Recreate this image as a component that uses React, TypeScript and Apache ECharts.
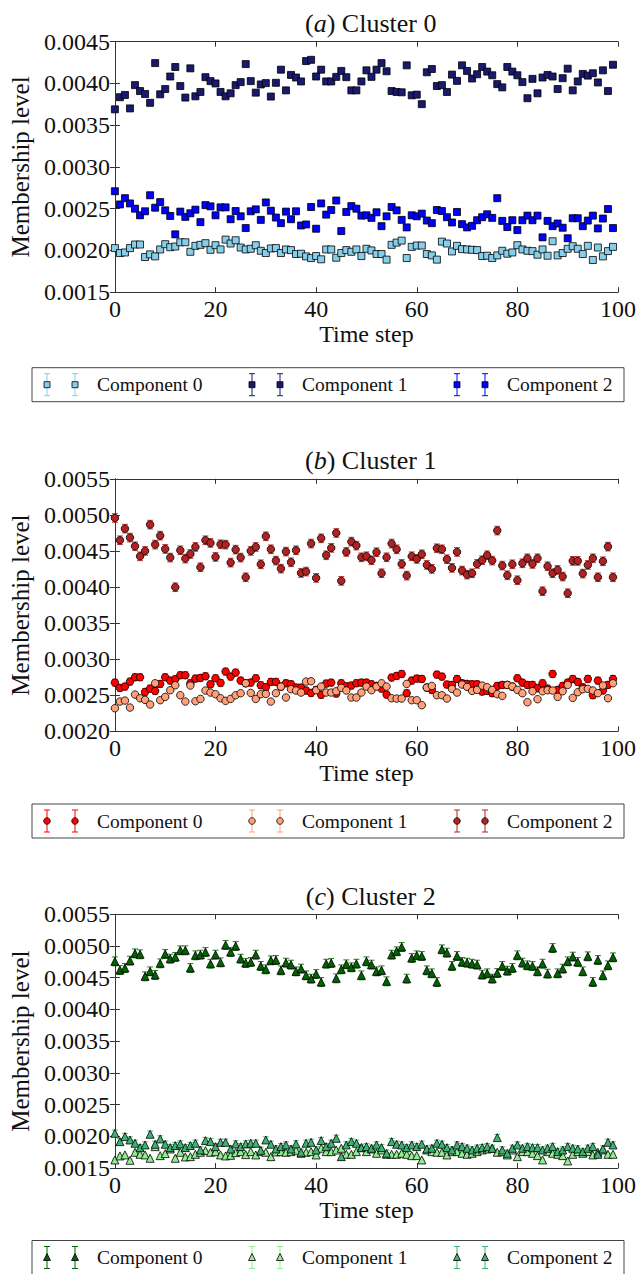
import React, { useEffect, useRef } from "react";
import * as echarts from "echarts";

// ---------------- DATA ----------------
const xTicks = [0, 20, 40, 60, 80, 100];
const componentNames = ["Component 0", "Component 1", "Component 2"];
const panelTitles = ["a", "b", "c"];
const clusterNames = ["Cluster 0", "Cluster 1", "Cluster 2"];

// Cluster 0
const cluster0Comp0 = [
  0.002028, 0.001969, 0.001976, 0.002028, 0.002071, 0.002071, 0.001921, 0.001953, 0.001929, 0.002012,
  0.002075, 0.002039, 0.002047, 0.002098, 0.002098, 0.001984, 0.002055, 0.002067, 0.002087, 0.002008,
  0.002063, 0.002012, 0.00213, 0.002083, 0.002122, 0.002035, 0.002012, 0.00202, 0.002063, 0.001996,
  0.001969, 0.002024, 0.002028, 0.001969, 0.002012, 0.002004, 0.001957, 0.001961, 0.001929, 0.001909,
  0.001933, 0.001894, 0.002012, 0.002012, 0.001913, 0.001969, 0.002004, 0.001984, 0.002012, 0.001933,
  0.00202, 0.002, 0.001957, 0.001957, 0.00189, 0.002067, 0.002094, 0.002118, 0.001909, 0.002043,
  0.002059, 0.002059, 0.001957, 0.001941, 0.00189, 0.002106, 0.002083, 0.001988, 0.002055, 0.002016,
  0.002012, 0.002008, 0.002004, 0.001933, 0.001937, 0.001909, 0.001941, 0.001996, 0.001961, 0.001976,
  0.002063, 0.002012, 0.001996, 0.001992, 0.001949, 0.002012, 0.001937, 0.00211, 0.001941, 0.001969,
  0.00202, 0.002051, 0.00202, 0.001957, 0.002055, 0.001886, 0.002035, 0.001929, 0.001992, 0.002043,
];
const cluster0Comp1 = [
  0.00369, 0.003835, 0.003862, 0.003701, 0.00398, 0.003909, 0.003874, 0.003768, 0.004244, 0.00387,
  0.003933, 0.004083, 0.004197, 0.003969, 0.003831, 0.004181, 0.003846, 0.003898, 0.004075, 0.004028,
  0.004, 0.003898, 0.003846, 0.003882, 0.00398, 0.004016, 0.004232, 0.004028, 0.00389, 0.003988,
  0.004004, 0.003843, 0.004008, 0.004165, 0.003917, 0.004102, 0.004071, 0.004024, 0.004268, 0.004283,
  0.004083, 0.004165, 0.004024, 0.004024, 0.004079, 0.00415, 0.004075, 0.003917, 0.003917, 0.004024,
  0.004157, 0.004079, 0.004165, 0.004244, 0.004146, 0.003909, 0.003898, 0.003894, 0.004217, 0.003858,
  0.003866, 0.003752, 0.004134, 0.004173, 0.003969, 0.00398, 0.003898, 0.004106, 0.004031, 0.004217,
  0.00415, 0.004059, 0.00411, 0.004197, 0.004142, 0.004098, 0.003992, 0.003953, 0.004197, 0.004142,
  0.004098, 0.004016, 0.003823, 0.004055, 0.003882, 0.004071, 0.004102, 0.004083, 0.003933, 0.004063,
  0.004177, 0.003917, 0.004024, 0.004114, 0.004094, 0.004122, 0.004012, 0.004157, 0.003909, 0.004224,
];
const cluster0Comp2 = [
  0.002709, 0.002551, 0.002626, 0.002563, 0.0025, 0.002421, 0.002469, 0.002661, 0.002512, 0.002579,
  0.00248, 0.002413, 0.002193, 0.002465, 0.002402, 0.002445, 0.002488, 0.002339, 0.002543, 0.002528,
  0.002421, 0.002516, 0.002516, 0.002374, 0.002472, 0.002409, 0.002268, 0.002469, 0.002492, 0.002366,
  0.002575, 0.002476, 0.002394, 0.002327, 0.002465, 0.002374, 0.002469, 0.002299, 0.002311, 0.00252,
  0.00226, 0.002563, 0.002429, 0.002484, 0.002598, 0.002232, 0.002461, 0.002531, 0.0025, 0.002417,
  0.002421, 0.00239, 0.002457, 0.002291, 0.002409, 0.00252, 0.00248, 0.002366, 0.002276, 0.002421,
  0.002409, 0.002441, 0.002358, 0.002327, 0.002484, 0.002472, 0.002398, 0.002335, 0.002461, 0.002315,
  0.002276, 0.002295, 0.002362, 0.002398, 0.002433, 0.00239, 0.002626, 0.002354, 0.00228, 0.002362,
  0.002244, 0.002362, 0.002417, 0.002362, 0.002417, 0.002157, 0.002354, 0.002291, 0.002323, 0.002272,
  0.002146, 0.002386, 0.002386, 0.002291, 0.002358, 0.002417, 0.002264, 0.002382, 0.002496, 0.002268,
];

// Cluster 1
const cluster1Comp0 = [
  0.002675, 0.002602, 0.00262, 0.002689, 0.002749, 0.002749, 0.002546, 0.002592, 0.00256, 0.002657,
  0.002749, 0.002703, 0.002722, 0.002777, 0.002777, 0.002666, 0.002731, 0.00274, 0.002763, 0.002652,
  0.002735, 0.002671, 0.002828, 0.002758, 0.002814, 0.002703, 0.002666, 0.002675, 0.002735, 0.002638,
  0.002611, 0.002685, 0.002685, 0.00262, 0.002666, 0.002652, 0.002606, 0.002606, 0.002565, 0.002532,
  0.002574, 0.002505, 0.002662, 0.002675, 0.002523, 0.002666, 0.002625, 0.002634, 0.002666, 0.002675,
  0.002675, 0.002652, 0.002629, 0.002592, 0.002509, 0.002745, 0.002768, 0.002795, 0.002528, 0.002703,
  0.002731, 0.002726, 0.002606, 0.002574, 0.002786, 0.002758, 0.002648, 0.002643, 0.002726, 0.002666,
  0.002657, 0.002652, 0.002652, 0.002551, 0.00256, 0.002528, 0.002629, 0.002643, 0.002643, 0.00262,
  0.002735, 0.002675, 0.002643, 0.002643, 0.002597, 0.002666, 0.002592, 0.002795, 0.002574, 0.002629,
  0.002675, 0.002726, 0.002685, 0.002611, 0.002726, 0.0025, 0.002703, 0.002565, 0.002643, 0.002726,
];
const cluster1Comp1 = [
  0.00232, 0.002412, 0.002426, 0.002329, 0.002509, 0.002458, 0.002435, 0.002371, 0.002666, 0.002431,
  0.002477, 0.002569, 0.002638, 0.0025, 0.002412, 0.002634, 0.002417, 0.002449, 0.002565, 0.002537,
  0.002514, 0.002458, 0.002422, 0.002449, 0.0025, 0.002528, 0.002666, 0.002532, 0.002449, 0.002514,
  0.002518, 0.002412, 0.002528, 0.00262, 0.002468, 0.002583, 0.002565, 0.002537, 0.002689, 0.002694,
  0.002569, 0.00262, 0.002537, 0.002537, 0.002555, 0.002602, 0.002565, 0.002468, 0.002468, 0.002537,
  0.00262, 0.002569, 0.00262, 0.002666, 0.00262, 0.002458, 0.002454, 0.002454, 0.002657, 0.002431,
  0.002431, 0.002362, 0.002606, 0.002629, 0.0025, 0.0025, 0.002454, 0.002588, 0.002537, 0.002648,
  0.002615, 0.00256, 0.002574, 0.002634, 0.002611, 0.002574, 0.002514, 0.002491, 0.002643, 0.00262,
  0.002574, 0.002528, 0.002403, 0.002555, 0.002445, 0.002555, 0.002569, 0.002565, 0.002477, 0.002555,
  0.002643, 0.002463, 0.002542, 0.002583, 0.002588, 0.002565, 0.002528, 0.002634, 0.002458, 0.002666,
];
const cluster1Comp2 = [
  0.004957, 0.004648, 0.004809, 0.004685, 0.004565, 0.004426, 0.0045, 0.004865, 0.004588, 0.004712,
  0.004528, 0.004408, 0.003997, 0.004509, 0.004394, 0.004458, 0.004555, 0.004274, 0.004648, 0.004611,
  0.004417, 0.004592, 0.004588, 0.004338, 0.004518, 0.004408, 0.004135, 0.0045, 0.004555, 0.004315,
  0.004703, 0.004523, 0.004366, 0.004255, 0.004491, 0.004343, 0.004509, 0.004195, 0.004214, 0.004602,
  0.004126, 0.004675, 0.00444, 0.004542, 0.004749, 0.004085, 0.004486, 0.004629, 0.004574, 0.004412,
  0.004426, 0.004371, 0.004482, 0.004191, 0.004412, 0.004602, 0.004523, 0.00432, 0.004158, 0.004426,
  0.004389, 0.004454, 0.004306, 0.004251, 0.004537, 0.004523, 0.004385, 0.004265, 0.004486, 0.004228,
  0.004172, 0.004191, 0.00432, 0.004371, 0.00444, 0.004366, 0.004782, 0.004297, 0.004163, 0.004315,
  0.004094, 0.004329, 0.004398, 0.00432, 0.004398, 0.003942, 0.004288, 0.004191, 0.004237, 0.004145,
  0.003914, 0.004362, 0.004362, 0.004186, 0.004306, 0.004398, 0.004135, 0.004357, 0.00456, 0.004135,
];

// Cluster 2
const cluster2Comp0 = [
  0.004758, 0.004621, 0.004653, 0.004769, 0.004884, 0.004869, 0.004522, 0.0046, 0.004543, 0.004727,
  0.004874, 0.0048, 0.004827, 0.004932, 0.004932, 0.004653, 0.004853, 0.004863, 0.004905, 0.004721,
  0.004863, 0.004742, 0.005016, 0.004905, 0.005, 0.0048, 0.004732, 0.004748, 0.004863, 0.004685,
  0.004632, 0.004774, 0.004779, 0.004616, 0.004737, 0.004706, 0.0046, 0.004643, 0.004537, 0.004485,
  0.004558, 0.004432, 0.004721, 0.004732, 0.00449, 0.004632, 0.004711, 0.004664, 0.004721, 0.004537,
  0.004758, 0.004706, 0.0046, 0.004616, 0.004443, 0.004863, 0.004916, 0.004984, 0.004485, 0.004811,
  0.004853, 0.004842, 0.004616, 0.004569, 0.004432, 0.004947, 0.004895, 0.004685, 0.004842, 0.004748,
  0.004737, 0.004721, 0.004706, 0.004548, 0.004569, 0.004485, 0.004574, 0.004685, 0.00461, 0.004653,
  0.004853, 0.004737, 0.004695, 0.004685, 0.0046, 0.004721, 0.004564, 0.004968, 0.004569, 0.004643,
  0.004758, 0.004832, 0.004748, 0.0046, 0.004837, 0.004432, 0.004779, 0.004537, 0.004695, 0.004821,
];
const cluster2Comp1 = [
  0.001627, 0.00169, 0.001706, 0.001621, 0.001748, 0.001716, 0.001706, 0.001653, 0.001837, 0.001695,
  0.001727, 0.0018, 0.001653, 0.001748, 0.001674, 0.001679, 0.001716, 0.001748, 0.001774, 0.001748,
  0.001758, 0.001706, 0.00169, 0.0017, 0.001742, 0.001758, 0.001711, 0.001758, 0.001706, 0.001758,
  0.001748, 0.001679, 0.001753, 0.001758, 0.001748, 0.001758, 0.001779, 0.001732, 0.001748, 0.001758,
  0.001706, 0.001811, 0.001758, 0.001758, 0.001784, 0.001811, 0.001716, 0.001716, 0.001758, 0.001821,
  0.001758, 0.0018, 0.001732, 0.001784, 0.001716, 0.001716, 0.001716, 0.001732, 0.001716, 0.001695,
  0.001695, 0.001627, 0.001784, 0.001758, 0.001748, 0.001748, 0.001706, 0.001758, 0.001758, 0.001732,
  0.001716, 0.001732, 0.001758, 0.001784, 0.0018, 0.001811, 0.001748, 0.001758, 0.001706, 0.001784,
  0.001679, 0.001758, 0.001758, 0.001732, 0.001695, 0.001627, 0.001758, 0.001732, 0.001716, 0.001695,
  0.001611, 0.001716, 0.001758, 0.001732, 0.001758, 0.001706, 0.001748, 0.001784, 0.001716, 0.001716,
];
const cluster2Comp2 = [
  0.002047, 0.001916, 0.001995, 0.001942, 0.00189, 0.001821, 0.001863, 0.002032, 0.001874, 0.001958,
  0.001874, 0.001821, 0.001853, 0.001879, 0.001821, 0.001853, 0.00189, 0.001784, 0.001932, 0.001916,
  0.001837, 0.001905, 0.001905, 0.0018, 0.001879, 0.001837, 0.001879, 0.00189, 0.00189, 0.001779,
  0.001942, 0.001874, 0.0018, 0.001837, 0.001863, 0.0018, 0.001879, 0.001748, 0.00189, 0.001905,
  0.001784, 0.001932, 0.001837, 0.00189, 0.001968, 0.001679, 0.001863, 0.001916, 0.00189, 0.001821,
  0.001837, 0.001811, 0.001863, 0.001821, 0.001732, 0.001916, 0.001874, 0.001863, 0.001821, 0.001863,
  0.001837, 0.001874, 0.0018, 0.001811, 0.00189, 0.001874, 0.001821, 0.001784, 0.001863, 0.001837,
  0.001811, 0.001784, 0.001811, 0.001821, 0.001837, 0.001811, 0.001979, 0.001784, 0.001732, 0.001811,
  0.001863, 0.001811, 0.001837, 0.001821, 0.001821, 0.001784, 0.001811, 0.001837, 0.001758, 0.001784,
  0.001837, 0.001811, 0.0018, 0.001758, 0.001811, 0.001837, 0.001716, 0.0018, 0.001905, 0.001863,
];

// error-bar half widths (one per component)
const cluster0Err = [0.00002, 0.00002, 0.000032];
const cluster1Err = [0.000046, 0.00001, 0.00006];
const cluster2Err = [0.00007, 0.00002, 0.00005];

// y-axis ranges
const yRanges = [
  [0.0015, 0.0045],
  [0.002, 0.0055],
  [0.0015, 0.0055],
];
const yStep = 0.0005;

// ---------------- STYLE ----------------
const FONT = '"Liberation Serif", "DejaVu Serif", serif';
const TXT = "#111";
const AX = "#333";

const panels = [
  {
    top: 41.7, height: 250.5, legendTop: 367.7, symbol: "rect", size: 7,
    colors: ["#87CEEB", "#191970", "#0000FF"],
    data: [cluster0Comp0, cluster0Comp1, cluster0Comp2], err: cluster0Err,
  },
  {
    top: 478.8, height: 252.5, legendTop: 804, symbol: "circle", size: 7.5,
    colors: ["#FF0000", "#FFA07A", "#B22222"],
    data: [cluster1Comp0, cluster1Comp1, cluster1Comp2], err: cluster1Err,
  },
  {
    top: 914.3, height: 253.7, legendTop: 1240.5, symbol: "triangle", size: 8,
    colors: ["#006400", "#90EE90", "#3CB371"],
    data: [cluster2Comp0, cluster2Comp1, cluster2Comp2], err: cluster2Err,
  },
];

const GRID_LEFT = 112.5;
const GRID_WIDTH = 506.5;

function errRender(color: string) {
  return (params: any, api: any) => {
    const x = api.value(0);
    const y = api.value(1);
    const e = api.value(2);
    const p1 = api.coord([x, y + e]);
    const p2 = api.coord([x, y - e]);
    const style = { stroke: color, lineWidth: 1, opacity: 0.85 };
    const c = 3;
    return {
      type: "group",
      children: [
        { type: "line", shape: { x1: p1[0], y1: p1[1], x2: p2[0], y2: p2[1] }, style },
        { type: "line", shape: { x1: p1[0] - c, y1: p1[1], x2: p1[0] + c, y2: p1[1] }, style },
        { type: "line", shape: { x1: p2[0] - c, y1: p2[1], x2: p2[0] + c, y2: p2[1] }, style },
      ],
    };
  };
}

function legendMarker(symbol: string, mx: number, cy: number, color: string): any {
  const style = { fill: color, stroke: "#000", lineWidth: 0.8 };
  if (symbol === "rect") return { type: "rect", shape: { x: mx - 3, y: cy - 3, width: 6, height: 6 }, style };
  if (symbol === "circle") return { type: "circle", shape: { cx: mx, cy, r: 3.3 }, style };
  return { type: "polygon", shape: { points: [[mx, cy - 4], [mx + 3.5, cy + 3], [mx - 3.5, cy + 3]] }, style };
}

function buildLegend(p: any): any[] {
  const els: any[] = [];
  const top = p.legendTop;
  const cy = top + 17;
  els.push({
    type: "rect",
    shape: { x: 32, y: top, width: 592, height: 34 },
    style: { fill: "#fff", stroke: "#444", lineWidth: 1 },
    z: 1,
  });
  componentNames.forEach((name, i) => {
    const bx = 47 + 205 * i;
    const col = p.colors[i];
    [bx, bx + 28].forEach((mx) => {
      const st = { stroke: col, lineWidth: 1 };
      els.push({ type: "line", shape: { x1: mx, y1: cy - 11, x2: mx, y2: cy + 11 }, style: st, z: 2 });
      els.push({ type: "line", shape: { x1: mx - 3, y1: cy - 11, x2: mx + 3, y2: cy - 11 }, style: st, z: 2 });
      els.push({ type: "line", shape: { x1: mx - 3, y1: cy + 11, x2: mx + 3, y2: cy + 11 }, style: st, z: 2 });
      els.push({ ...legendMarker(p.symbol, mx, cy, col), z: 3 });
    });
    els.push({
      type: "text",
      x: bx + 50,
      y: cy,
      style: { text: name, fontSize: 19.5, fontFamily: FONT, fill: TXT, verticalAlign: "middle", align: "left" },
      z: 3,
    });
  });
  return els;
}

export default function App() {
  const ref = useRef<HTMLDivElement>(null);
  useEffect(() => {
    document.body.style.margin = "0";
    if (!ref.current) return;
    const chart = echarts.init(ref.current, undefined, { renderer: "svg" });

    const grid: any[] = [];
    const xAxis: any[] = [];
    const yAxis: any[] = [];
    const series: any[] = [];
    const title: any[] = [];
    let graphic: any[] = [];

    panels.forEach((p, k) => {
      grid.push({ left: GRID_LEFT, top: p.top, width: GRID_WIDTH, height: p.height, show: false });
      const axLine = { show: true, lineStyle: { color: AX, width: 1 } };
      const tick = { show: true, inside: true, length: 5, lineStyle: { color: AX, width: 1 } };
      const lbl = { fontSize: 24, fontFamily: FONT, color: TXT };
      xAxis.push({
        type: "value", gridIndex: k, min: xTicks[0], max: xTicks[xTicks.length - 1], interval: 20,
        position: "bottom", axisLine: axLine, axisTick: tick, splitLine: { show: false },
        axisLabel: { ...lbl, margin: 5 },
        name: "Time step", nameLocation: "middle", nameGap: 24,
        nameTextStyle: { fontSize: 24, fontFamily: FONT, color: TXT },
      });
      xAxis.push({
        type: "value", gridIndex: k, min: xTicks[0], max: xTicks[xTicks.length - 1], interval: 20,
        position: "top", axisLine: axLine, axisTick: tick, splitLine: { show: false },
        axisLabel: { show: false },
      });
      const [ymin, ymax] = yRanges[k];
      yAxis.push({
        type: "value", gridIndex: k, min: ymin, max: ymax, interval: yStep,
        position: "left", axisLine: axLine, axisTick: tick, splitLine: { show: false },
        axisLabel: { ...lbl, margin: 5, formatter: (v: number) => v.toFixed(4) },
        name: "Membership level", nameLocation: "middle", nameGap: 78,
        nameTextStyle: { fontSize: 25, fontFamily: FONT, color: TXT },
      });
      yAxis.push({
        type: "value", gridIndex: k, min: ymin, max: ymax, interval: yStep,
        position: "right", axisLine: axLine, axisTick: tick, splitLine: { show: false },
        axisLabel: { show: false },
      });

      p.data.forEach((vals: number[], i: number) => {
        const err = p.err[i];
        series.push({
          type: "custom",
          name: componentNames[i] + " err " + k,
          xAxisIndex: 2 * k,
          yAxisIndex: 2 * k,
          renderItem: errRender(p.colors[i]),
          data: vals.map((v, t) => [t, v, err]),
          encode: { x: 0, y: 1 },
          z: 2 + i * 2,
          silent: true,
        });
        series.push({
          type: "scatter",
          name: componentNames[i],
          xAxisIndex: 2 * k,
          yAxisIndex: 2 * k,
          symbol: p.symbol,
          symbolSize: p.size,
          data: vals.map((v, t) => [t, v]),
          itemStyle: { color: p.colors[i], borderColor: "#000", borderWidth: 0.8, opacity: 1 },
          z: 3 + i * 2,
          silent: true,
        });
      });

      title.push({
        text: "({i|" + panelTitles[k] + "}) " + clusterNames[k],
        left: GRID_LEFT + GRID_WIDTH / 2,
        textAlign: "center",
        top: p.top - 36,
        textStyle: {
          fontSize: 26, fontWeight: "normal", fontFamily: FONT, color: TXT,
          rich: { i: { fontSize: 26, fontStyle: "italic", fontFamily: FONT, color: TXT } },
        },
      });

      graphic = graphic.concat(buildLegend(p));
    });

    chart.setOption({
      animation: false,
      backgroundColor: "#fff",
      title,
      grid,
      xAxis,
      yAxis,
      series,
      graphic,
    });
    return () => chart.dispose();
  }, []);
  return <div ref={ref} style={{ width: 639, height: 1274 }} />;
}
